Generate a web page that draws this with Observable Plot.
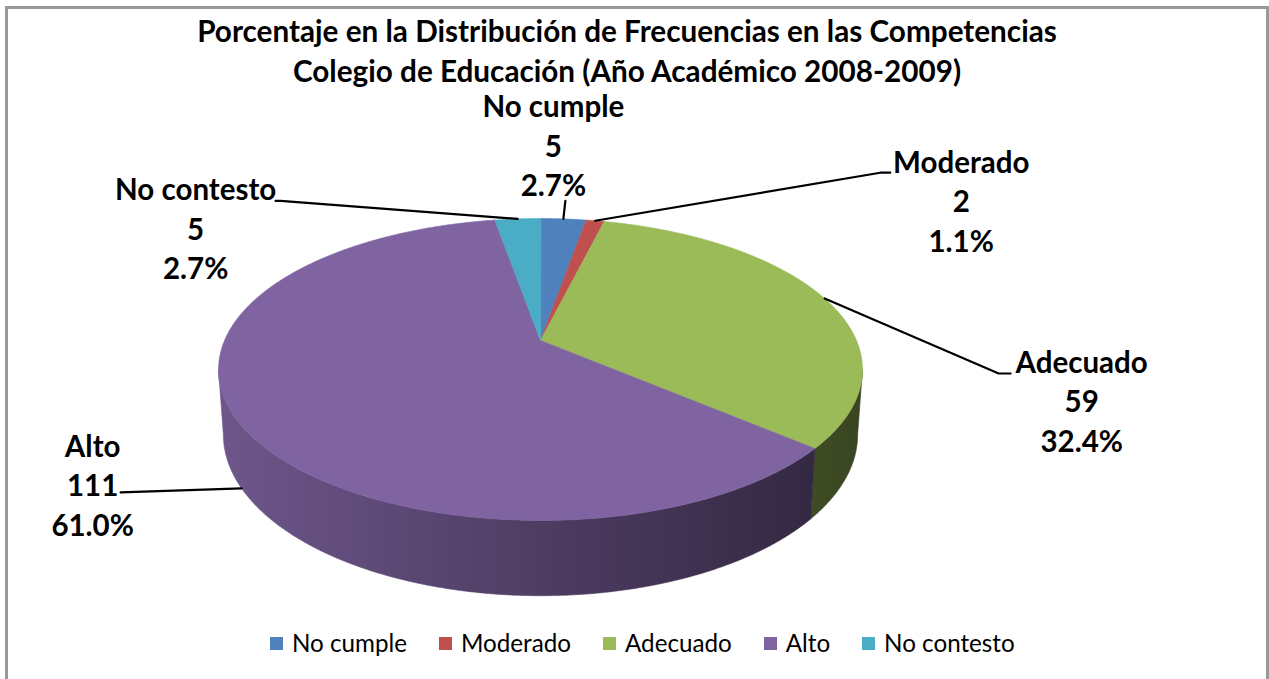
<!DOCTYPE html>
<html><head><meta charset="utf-8">
<script src="https://cdn.jsdelivr.net/npm/d3@7"></script>
<script src="https://cdn.jsdelivr.net/npm/@observablehq/plot@0.6"></script>
<style>
body{margin:0;background:#fff;}
#wrap{position:relative;width:1269px;height:679px;overflow:hidden;font-family:Lato,"Open Sans",sans-serif;color:#000;}
#frame{position:absolute;left:5px;top:6px;width:1264px;height:720px;border:3px solid #999;box-sizing:border-box;}
#chart{position:absolute;left:0;top:0;}
#title{position:absolute;left:0;top:11px;width:1254px;text-align:center;font-weight:bold;font-size:29.7px;line-height:40px;}
#legend{position:absolute;left:270px;top:630px;display:flex;align-items:center;font-size:24.2px;line-height:26px;white-space:nowrap;}
#legend .item{display:flex;align-items:center;margin-right:32px;}
#legend .sw{width:13px;height:13px;margin-right:9px;}
</style></head>
<body>
<div id="wrap">
  <div id="frame"></div>
  <div id="chart"></div>
  <div id="title">Porcentaje en la Distribución de Frecuencias en las Competencias<br>Colegio de Educación (Año Académico 2008-2009)</div>
  <div id="legend"></div>
</div>
<script>
// ---- data ----
const categories = ["No cumple", "Moderado", "Adecuado", "Alto", "No contesto"];
const counts = [5, 2, 59, 111, 5];
const percentLabels = ["2.7%", "1.1%", "32.4%", "61.0%", "2.7%"];
const colors = ["#4f81bd", "#c0504d", "#9bbb59", "#8064a2", "#4bacc6"];

// ---- layout (3D perspective pie) ----
const W = 1269, Hh = 679;
const cxPx = 540, cyPx = 340, Apx = 316, Bpx = 145.4;
const k = 0.192;          // perspective factor
const depth = 63 / Bpx;   // side thickness (y units)
const sb = 0.985;         // bottom rim shrink
// label offsets from anchor, in pixels: [leader points...], text centre
const labelLayout = [
  {pts: [[2, -18]], text: [-10, -75]},
  {pts: [[285, -48], [295, -48]], text: [366, -21]},
  {pts: [[174, 75], [186, 75]], text: [257, 101]},
  {pts: [[-121, 4]], text: [-149, -5]},
  {pts: [[-237, -18], [-242, -18]], text: [-322, 8]}
];

function proj(theta, bottom) {
  const u = Math.sin(theta), v = Math.cos(theta), w = 1 + k * v;
  if (!bottom) return [u / w, -v / w];
  return [sb * u / w, sb * (-v / w) + depth / w];
}
function arcPts(a0, a1, bottom) {
  const n = Math.max(2, Math.ceil((a1 - a0) / 0.005));
  return d3.range(n + 1).map(i => proj(a0 + (a1 - a0) * i / n, bottom));
}

const rows = categories.map((c, i) => ({cat: c, count: counts[i], pct: percentLabels[i], i}));
const arcs = d3.pie().sort(null).value(d => d.count)(rows);

// top faces
const topPts = arcs.flatMap(a => [[0, 0], ...arcPts(a.startAngle, a.endAngle, false)]
  .map(([x, y]) => ({cat: a.data.cat, x, y})));

// visible side band
const th1 = Math.acos(-k), th2 = 2 * Math.PI - Math.acos(-k);
const sides = [];
arcs.forEach(a => {
  const s = Math.max(a.startAngle, th1), e = Math.min(a.endAngle, th2);
  if (e > s) {
    const pts = [...arcPts(s, e, false), ...arcPts(s, e, true).reverse()]
      .map(([x, y]) => ({x, y}));
    sides.push({i: a.data.i, pts});
  }
});

// labels
const labels = arcs.map(a => {
  const mid = (a.startAngle + a.endAngle) / 2;
  const front = Math.cos(mid) < -k;
  const [ax, ay] = proj(mid, front);
  const L = labelLayout[a.data.i];
  const line = [[ax, ay], ...L.pts.map(([dx, dy]) => [ax + dx / Apx, ay + dy / Bpx])]
    .map(([x, y]) => ({cat: a.data.cat, x, y}));
  return {
    cat: a.data.cat, line,
    tx: ax + L.text[0] / Apx, ty: ay + L.text[1] / Bpx,
    text: `${a.data.cat}\n${a.data.count}\n${a.data.pct}`
  };
});

const plot = Plot.plot({
  width: W, height: Hh,
  margin: 0,
  x: {domain: [-cxPx / Apx, (W - cxPx) / Apx], range: [0, W], axis: null},
  y: {domain: [-cyPx / Bpx, (Hh - cyPx) / Bpx], range: [0, Hh], axis: null},
  color: {domain: categories, range: colors},
  style: {background: "transparent", overflow: "visible"},
  marks: [
    ...sides.map(s => Plot.line(s.pts, {x: "x", y: "y", fill: `url(#side${s.i})`, stroke: `url(#side${s.i})`, strokeWidth: 0.6, curve: "linear-closed"})),
    Plot.line(topPts, {x: "x", y: "y", z: "cat", fill: "cat", stroke: "cat", strokeWidth: 0.6, curve: "linear-closed"}),
    Plot.line(labels.flatMap(l => l.line), {x: "x", y: "y", z: "cat", stroke: "#000", strokeWidth: 2.2}),
    Plot.text(labels, {x: "tx", y: "ty", text: "text", fontSize: 29.5, fontWeight: "bold", fontFamily: "Lato", lineHeight: 1.34, fill: "#000"})
  ]
});
document.getElementById("chart").appendChild(plot);

// gradients for the shaded side
const xs = plot.scale("x");
const xL = xs.apply(proj(th2, false)[0]), xR = xs.apply(proj(th1, false)[0]);
const svg = d3.select(plot);
const defs = svg.insert("defs", ":first-child");
colors.forEach((c, i) => {
  const base = d3.rgb(c);
  const g = defs.append("linearGradient").attr("id", `side${i}`)
    .attr("gradientUnits", "userSpaceOnUse")
    .attr("x1", xL).attr("x2", xR).attr("y1", 0).attr("y2", 0);
  [[0, 0.86], [0.5, 0.61], [1, 0.37]].forEach(([o, f]) => {
    g.append("stop").attr("offset", o)
      .attr("stop-color", d3.rgb(base.r * f, base.g * f, base.b * f).formatHex());
  });
});

// legend
const leg = d3.select("#legend");
categories.forEach((c, i) => {
  const it = leg.append("div").attr("class", "item");
  it.append("div").attr("class", "sw").style("background", colors[i]);
  it.append("span").text(c);
});
</script>
</body></html>
